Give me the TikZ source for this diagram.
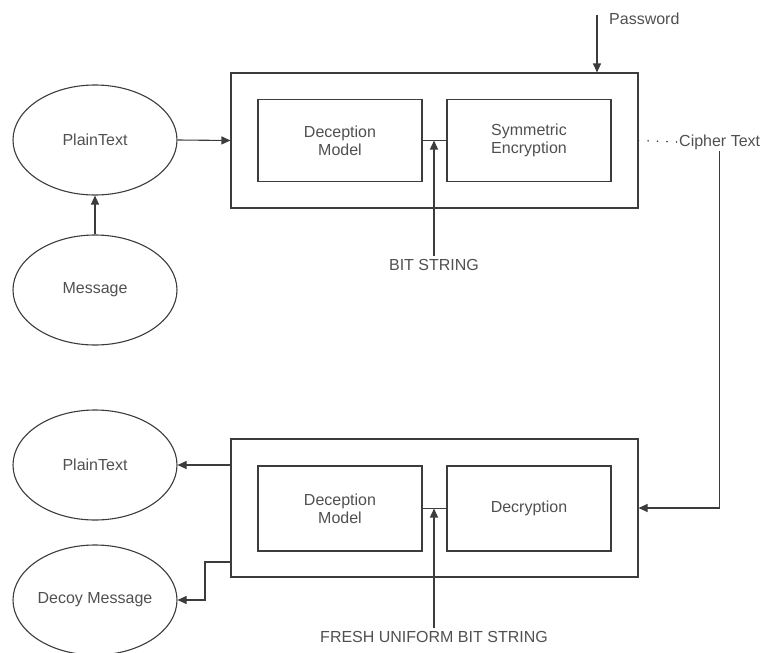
\documentclass[tikz,border=0pt]{standalone}
\usepackage{fontspec}
\setmainfont{Liberation Sans}
\usetikzlibrary{arrows.meta, positioning, shapes.geometric, calc}

\definecolor{linegray}{HTML}{3C3C3C}
\definecolor{textgray}{HTML}{505050}

\begin{document}
\begin{tikzpicture}[x=1pt, y=-1pt,
    every node/.style={font=\fontsize{16}{18}\selectfont, text=textgray},
    oval/.style={draw=linegray, line width=1.1pt, ellipse, minimum width=164pt, minimum height=110pt, inner sep=0pt},
    outerbox/.style={draw=linegray, line width=1.1pt, minimum width=407pt, inner sep=0pt},
    innerbox/.style={draw=linegray, line width=1.1pt, minimum width=164pt, inner sep=0pt, align=center},
    link/.style={draw=linegray, line width=1.1pt},
    arr/.style={link, -{Triangle[length=9pt, width=8pt]}}]
    \useasboundingbox (0,0) rectangle (763,653);
    
    % Encryption side
    \node[outerbox, minimum height=135pt] (encbox) at (434.5, 140.5) {};
    \node[innerbox, minimum height=82pt] (dm1) at (340, 140.5) {Deception\\Model};
    \node[innerbox, minimum height=82pt] (senc) at (529, 140.5) {Symmetric\\Encryption};
    \node (bits) at (434, 265) {BIT STRING};
    \node[anchor=west, inner sep=1pt] (pwd) at (608, 19) {Password};
    \node[anchor=west, inner sep=1pt] (cipher) at (678, 142) {Cipher Text};
    \coordinate (pwdtop) at (597, 15);
    
    % Decryption side
    \node[outerbox, minimum height=138pt] (decbox) at (434.5, 508) {};
    \node[innerbox, minimum height=85pt] (dm2) at (340, 508.5) {Deception\\Model};
    \node[innerbox, minimum height=85pt] (dec) at (529, 508.5) {Decryption};
    \node (fresh) at (434, 637) {FRESH UNIFORM BIT STRING};
    \coordinate (decoyout) at (231, 562);
    
    % Messages
    \node[oval] (plain1) at (95, 140) {PlainText};
    \node[oval] (msg) at (95, 290) {Message};
    \node[oval] (plain2) at (95, 465) {PlainText};
    \node[oval] (decoy) at (95, 600) {Decoy Message};
    
    % Connections top
    \draw[arr] (msg.north) -- (plain1.south);
    \draw[arr] (plain1.east) -- (encbox.west);
    \draw[link] (dm1.east) -- (senc.west);
    \draw[arr] (bits.north) -- (bits.north |- dm1.east);
    \draw[arr] (pwdtop) -- (pwdtop |- encbox.north);
    \draw[link, line width=1.8pt, line cap=round, dash pattern=on 0pt off 9.5pt] (encbox.east) -- (cipher.west);
    
    % Connections bottom
    \draw[arr] (cipher.south) |- (decbox.east);
    \draw[link] (dm2.east) -- (dec.west);
    \draw[arr] (fresh.north) -- (fresh.north |- dm2.east);
    \draw[arr] (plain2.east -| decbox.west) -- (plain2.east);
    \draw[arr] (decoyout) -- ++(-26, 0) |- (decoy.east);
    
\end{tikzpicture}
\end{document}
